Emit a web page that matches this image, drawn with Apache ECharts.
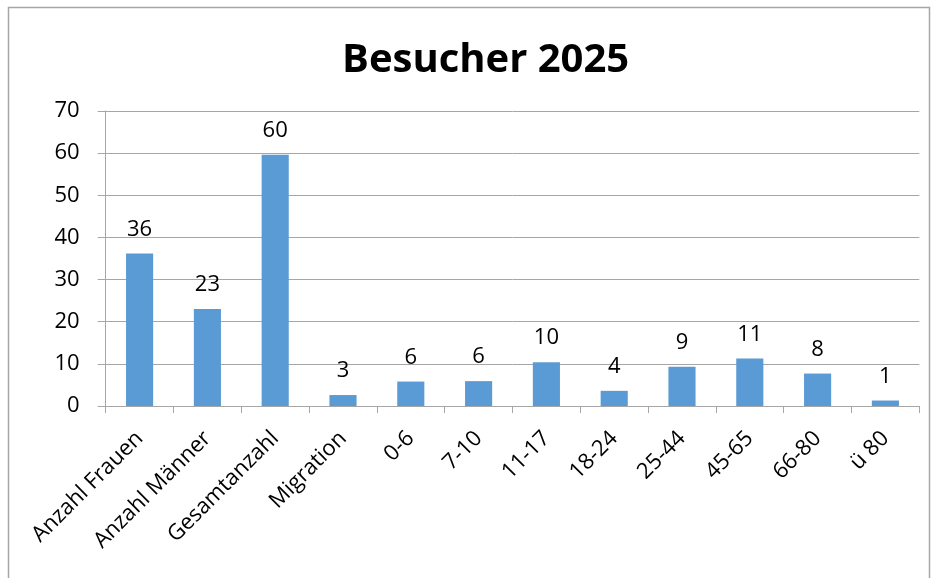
<!DOCTYPE html>
<html>
<head>
<meta charset="utf-8">
<script src="https://cdn.jsdelivr.net/npm/echarts@6/dist/echarts.min.js"></script>
<style>html,body{margin:0;padding:0;background:#fff}#c{width:935px;height:578px}</style>
</head>
<body>
<div id="c"></div>
<script>
var categories = ['Anzahl Frauen','Anzahl Männer','Gesamtanzahl','Migration','0-6','7-10','11-17','18-24','25-44','45-65','66-80','ü 80'];
var values = [36.2, 23.0, 59.6, 2.6, 5.8, 5.9, 10.4, 3.6, 9.3, 11.3, 7.7, 1.3];
var yTicks = [0, 10, 20, 30, 40, 50, 60, 70];
var titleText = 'Besucher 2025';

var FONT = '"Open Sans", "Noto Sans", sans-serif';
var chart = echarts.init(document.getElementById('c'), null, {renderer: 'canvas'});
chart.setOption({
  backgroundColor: '#ffffff',
  animation: false,
  title: {
    text: titleText,
    left: 337,
    top: 36,
    textStyle: {fontFamily: FONT, fontWeight: 'bold', fontSize: 40, color: '#000'}
  },
  graphic: [{
    type: 'rect',
    shape: {x: 8.5, y: 7.5, width: 921, height: 600},
    style: {fill: 'none', stroke: '#a6a6a6', lineWidth: 1.5},
    silent: true, z: -1
  }],
  grid: {left: 105.7, right: 15.7, top: 111, bottom: 172, containLabel: false, outerBoundsMode: 'none'},
  xAxis: {
    type: 'category',
    data: categories,
    axisLine: {show: true, lineStyle: {color: '#a6a6a6', width: 1}},
    axisTick: {show: true, alignWithLabel: false, length: 7, lineStyle: {color: '#a6a6a6'}},
    axisLabel: {rotate: 45, interval: 0, margin: 29, fontFamily: FONT, fontSize: 22, color: '#000'}
  },
  yAxis: {
    type: 'value',
    min: yTicks[0],
    max: yTicks[yTicks.length - 1],
    interval: 10,
    axisLine: {show: true, lineStyle: {color: '#a6a6a6', width: 1}},
    axisTick: {show: true, length: 8, lineStyle: {color: '#a6a6a6'}},
    splitLine: {show: true, lineStyle: {color: '#a6a6a6', width: 1}},
    axisLabel: {margin: 26, fontFamily: FONT, fontSize: 22, color: '#000'}
  },
  series: [{
    type: 'bar',
    data: values,
    barWidth: '40%',
    itemStyle: {color: '#5b9bd5'},
    label: {
      show: true,
      position: 'top',
      distance: 13,
      fontFamily: FONT,
      fontSize: 22,
      color: '#000',
      formatter: function (p) { return Math.round(p.value); }
    }
  }]
});
</script>
</body>
</html>
